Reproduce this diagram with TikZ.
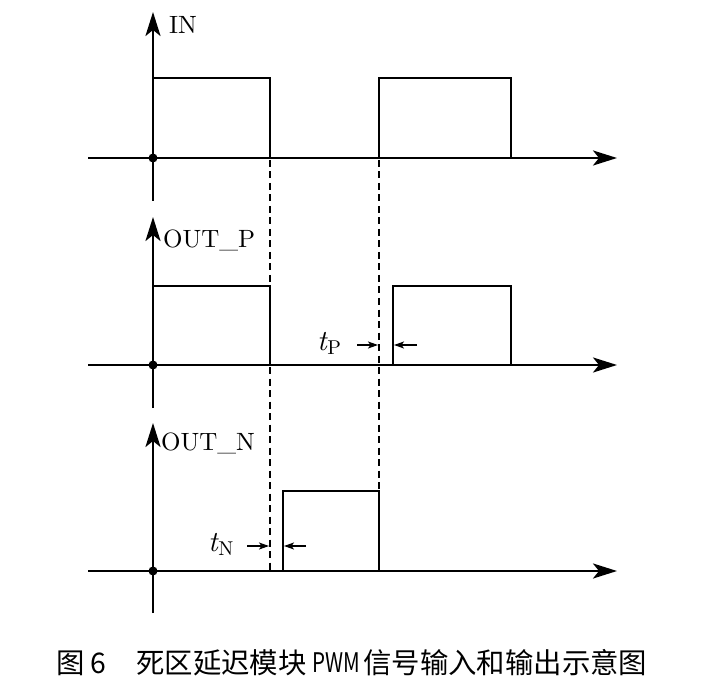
\documentclass[tikz,border=0pt]{standalone}
\usepackage{fontspec}
\newfontfamily\cjk{Noto Sans CJK SC}
\newfontfamily\lmten[Extension=.otf]{lmroman10-regular}
\newfontfamily\lmtenit[Extension=.otf]{lmroman10-italic}
\newcommand{\tsub}[1]{{\lmtenit\fontsize{29}{29}\selectfont t}\kern0.5pt\raisebox{-4pt}{\lmten\fontsize{20}{20}\selectfont #1}}
\usetikzlibrary{arrows.meta}
\begin{document}
\begin{tikzpicture}[x=1pt,y=-1pt,
  axis/.style={line width=2.6pt,-{Stealth[length=24pt,width=15pt,inset=6pt]}},
  sig/.style={line width=2.6pt},
  dsh/.style={line width=2pt,dash pattern=on 7pt off 4.5pt},
  gap/.style={line width=1.4pt,-{Stealth[length=10pt,width=7pt,inset=2.5pt]}},
  lbl/.style={font=\lmten\fontsize{25}{25}\selectfont,inner sep=0pt},
  mlbl/.style={inner sep=0pt},
  captxt/.style={font=\cjk\fontsize{28.4}{28.4}\selectfont,inner sep=0pt,anchor=west},
  dot/.style={circle,fill,inner sep=0pt,minimum size=9pt}]
\useasboundingbox (0,0) rectangle (706,684);
% ---------- IN ----------
\draw[axis] (88,158) -- (617,158);
\draw[axis] (153,201) -- (153,12);
\node[dot] (o1) at (153,158) {};
\node[lbl,anchor=west] (lin) at (169,25) {IN};
\draw[sig] (153,158) -- (153,78) -- (270,78) -- (270,158);
\draw[sig] (379,158) -- (379,78) -- (511,78) -- (511,158);
% ---------- OUT_P ----------
\draw[axis] (88,365) -- (617,365);
\draw[axis] (153,408) -- (153,217);
\node[dot] (o2) at (153,365) {};
\node[lbl,anchor=west] (lp) at (163,240) {OUT\_P};
\draw[sig] (153,365) -- (153,286) -- (270,286) -- (270,365);
\draw[sig] (393,365) -- (393,286) -- (511,286) -- (511,365);
% ---------- OUT_N ----------
\draw[axis] (88,571) -- (617,571);
\draw[axis] (153,613) -- (153,423);
\node[dot] (o3) at (153,571) {};
\node[lbl,anchor=west] (ln) at (161,443) {OUT\_N};
\draw[sig] (283,571) -- (283,491) -- (379,491) -- (379,571);
% ---------- dashed guides ----------
\draw[dsh] (270,160) -- (270,571);
\draw[dsh] (379,160) -- (379,491);
% ---------- dead times ----------
\coordinate (pa) at (357,345); \coordinate (pb) at (378,345);
\coordinate (pc) at (417,345); \coordinate (pd) at (394,345);
\draw[gap] (pa) -- (pb);
\draw[gap] (pc) -- (pd);
\node[mlbl,anchor=base west] (tp) at (317,350) {\tsub{P}};
\coordinate (na) at (247,546); \coordinate (nb) at (269,546);
\coordinate (nc) at (306,546); \coordinate (nd) at (284,546);
\draw[gap] (na) -- (nb);
\draw[gap] (nc) -- (nd);
\node[mlbl,anchor=base west] (tn) at (208,551) {\tsub{N}};
% ---------- caption ----------
\node[captxt] (c1) at (56,663) {图};
\node[captxt] (c2) at (90,663) {6};
\node[captxt] (c3) at (136,663) {死区延迟模块};
\node[captxt,font=\cjk\fontsize{27}{27}\selectfont,xscale=0.76,transform shape] (c4) at (312,663) {PWM};
\node[captxt] (c5) at (363,663) {信号输入和输出示意图};
\end{tikzpicture}
\end{document}
